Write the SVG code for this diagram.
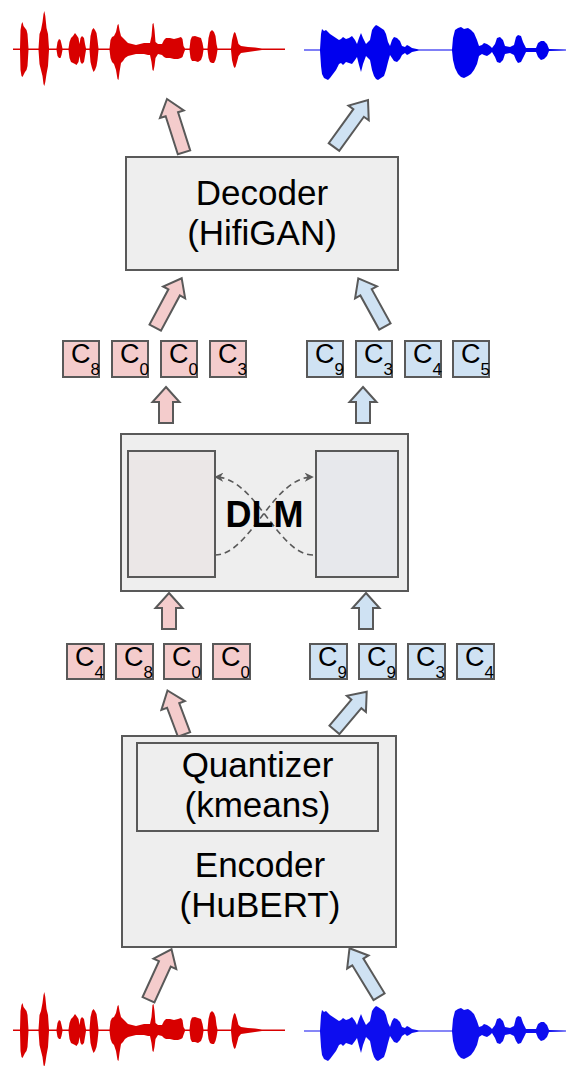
<svg xmlns="http://www.w3.org/2000/svg" xmlns:xlink="http://www.w3.org/1999/xlink" width="566" height="1066" viewBox="0 0 566 1066">
<style>
.box{fill:#eeeeee;stroke:#595959;stroke-width:2}
.pk{fill:#f4cccc;stroke:#595959;stroke-width:2;stroke-linejoin:miter}
.bl{fill:#cfe2f3;stroke:#595959;stroke-width:2;stroke-linejoin:miter}
.lbl{font-family:"Liberation Sans",Arial,sans-serif;font-size:35px;fill:#000;text-anchor:middle}
.tok{font-family:"Liberation Sans",Arial,sans-serif;font-size:27px;fill:#000}
.sub{font-size:17px}
.dash{fill:none;stroke:#595959;stroke-width:1.6;stroke-dasharray:6,4}
</style>
<defs>
<path id="wr" fill="#d80000" d="M13,48.5 L20,48.5 L20.5,30 L21.5,24 L22.5,22 L23.5,26 L25,28 L26.5,30 L27.5,34 L28.5,48.5 L38.5,48.5 L39.5,34 L41,30 L42.5,22 L43.5,14 L44.3,11 L45.3,16 L46.5,28 L48,34 L49,48.5 L56.5,48.5 L57.5,42 L59,39 L60.5,40 L61.5,44 L62.5,48.5 L68.5,48.5 L69.5,42 L71,38 L73,36 L75,33 L76.5,35 L78.5,38 L79.5,44 L80.5,38 L82,36 L84,38 L85,44 L86,48.5 L89.5,48.5 L90.5,36 L92,30 L93.5,28 L95,30 L96.5,33 L97.5,40 L98.5,48.5 L109.5,48.5 L110.5,40 L112,37 L114,36 L116,32 L117.5,25 L118.5,24 L119.5,30 L121,36 L123,38 L125,40 L128,43 L132,44 L136,45 L140,44 L144,43 L148,43 L150,43 L151.5,36 L152.5,24 L153.5,23 L154.5,30 L155.5,42 L158,44 L162,44 L164,40 L166,38 L170,38 L174,39 L178,38 L181,37 L182.5,39 L183.5,46 L185,48.5 L189.5,48.5 L190.5,40 L192,36.5 L195,36 L198,37 L201,38 L202.5,43 L203.5,48.5 L207.5,48.5 L208.5,38 L210,32 L212,30 L214,32 L215.5,36 L216.5,44 L217.5,48.5 L231,48.5 L232,40 L233.5,34 L234.5,32 L235.5,33 L237,38 L238.5,44 L241,46 L248,47 L255,47.5 L262,48.5 L285,48.5 L285,50 L262,50 L255,51 L248,52 L241,53 L238.5,56 L237,62 L235.5,67 L234.5,68 L233.5,66 L232,60 L231,50 L217.5,50 L216.5,56 L215.5,60 L214,63 L212,63 L210,62 L208.5,58 L207.5,50 L203.5,50 L202.5,56 L201,60 L198,62 L195,61 L192,61 L190.5,58 L189.5,50 L185,50 L183.5,54 L182.5,57 L181,58 L178,59 L174,59 L170,58 L166,58 L164,57 L162,55 L158,54 L155.5,58 L154.5,66 L153.5,71 L152.5,70 L151.5,62 L150,55 L148,55 L144,54 L140,54 L136,54 L132,55 L128,56 L125,58 L123,61 L121,63 L119.5,72 L118.5,80 L117.5,79 L116,70 L114,64 L112,62 L110.5,58 L109.5,50 L98.5,50 L97.5,60 L96.5,66 L95,70 L93.5,72 L92,68 L90.5,62 L89.5,50 L86,50 L85,56 L84,62 L82,64 L80.5,62 L79.5,56 L78.5,62 L76.5,65 L75,64 L73,63 L71,62 L69.5,58 L68.5,50 L62.5,50 L61.5,55 L60.5,58 L59,58 L57.5,56 L56.5,50 L49,50 L48,66 L46.5,74 L45.3,82 L44.3,86 L43.5,84 L42.5,76 L41,70 L39.5,64 L38.5,50 L28.5,50 L27.5,66 L26.5,70 L25,72 L23.5,75 L22.5,77 L21.5,76 L20.5,70 L20,50 L13,50 Z"/>
<path id="wb" fill="#0000ee" d="M304,49.4 L320,49.4 L321,34 L322,29 L324,31 L326,30 L328,32 L330,34 L333,36 L336,38 L339,40 L341,39 L343,37 L346,39 L349,38 L352,36 L355,40 L357,44 L359,38 L361,33 L363,38 L366,44 L370,40 L372,30 L374,27 L376,25 L378,26 L381,28 L384,30 L386,34 L388,42 L390,46 L392,40 L394,37 L397,38 L400,41 L402,46 L405,47 L407,45 L409,46 L412,48 L419,49.4 L452,49.4 L453,38 L455,30 L458,28 L461,27 L464,29 L468,28 L471,30 L474,33 L477,40 L479,46 L482,45 L484,43 L487,44 L490,46 L492,48 L495,44 L497,38 L500,37 L503,40 L505,46 L510,47 L514,45 L516,37 L518,35 L521,36 L523,42 L526,48 L536,48 L538,43 L541,41 L544,41 L547,44 L549,49 L566,49.4 L566,50.6 L549,51 L547,56 L544,59 L541,60 L538,57 L536,52 L526,52 L523,58 L521,62 L518,63 L516,60 L514,55 L510,53 L505,54 L503,60 L500,63 L497,62 L495,57 L492,52 L490,54 L487,56 L484,55 L482,54 L479,56 L477,64 L474,70 L471,74 L468,76 L464,78 L461,77 L458,74 L455,68 L453,60 L452,50.6 L419,50.6 L412,52 L409,54 L407,55 L405,53 L402,55 L400,59 L397,62 L394,61 L392,58 L390,55 L388,62 L386,70 L384,76 L381,78 L378,80 L376,79 L374,76 L372,70 L370,60 L366,56 L363,64 L361,72 L359,65 L357,57 L355,60 L352,64 L349,63 L346,62 L343,65 L341,63 L339,64 L336,70 L333,74 L330,78 L328,80 L326,79 L324,78 L322,74 L321,66 L320,50.6 L304,50.6 Z"/>
<path id="va" d="M0,0 L13.5,15 L7,15 L7,36 L-7,36 L-7,15 L-13.5,15 Z"/>
<marker id="ah" viewBox="0 0 10 10" refX="8" refY="5" markerWidth="9" markerHeight="9" markerUnits="userSpaceOnUse" orient="auto">
<path d="M0,0 L10,5 L0,10 L3,5 Z" fill="#595959"/>
</marker>
</defs>

<g id="waves-top">
<use xlink:href="#wr" href="#wr"/>
<use xlink:href="#wb" href="#wb"/>
</g>
<g id="waves-bottom" transform="translate(0,981)">
<use xlink:href="#wr" href="#wr"/>
<use xlink:href="#wb" href="#wb" opacity="0.95"/>
</g>

<g id="connectors">
<path class="pk" transform="translate(167,99) rotate(-17.7)" d="M0,0 L12.5,16 L6.5,16 L6.5,56 L-6.5,56 L-6.5,16 L-12.5,16 Z"/>
<path class="bl" transform="translate(368,100) rotate(35.9)" d="M0,0 L12.5,16 L6.5,16 L6.5,58 L-6.5,58 L-6.5,16 L-12.5,16 Z"/>
<path class="pk" transform="translate(181.7,278.3) rotate(28.2)" d="M0,0 L12.5,16 L6.5,16 L6.5,56 L-6.5,56 L-6.5,16 L-12.5,16 Z"/>
<path class="bl" transform="translate(358.3,278.3) rotate(-28.9)" d="M0,0 L12.5,16 L6.5,16 L6.5,55 L-6.5,55 L-6.5,16 L-12.5,16 Z"/>
<use class="pk" xlink:href="#va" href="#va" transform="translate(166,387)"/>
<use class="bl" xlink:href="#va" href="#va" transform="translate(363,387)"/>
<use class="pk" xlink:href="#va" href="#va" transform="translate(169,593)"/>
<use class="bl" xlink:href="#va" href="#va" transform="translate(366,593)"/>
<path class="pk" transform="translate(167.5,690.5) rotate(-20.6)" d="M0,0 L12.5,16 L6.5,16 L6.5,47 L-6.5,47 L-6.5,16 L-12.5,16 Z"/>
<path class="bl" transform="translate(366.7,691.7) rotate(40.2)" d="M0,0 L12.5,16 L6.5,16 L6.5,50 L-6.5,50 L-6.5,16 L-12.5,16 Z"/>
<path class="pk" transform="translate(171.5,949.3) rotate(24.5)" d="M0,0 L12.5,16 L6.5,16 L6.5,55.5 L-6.5,55.5 L-6.5,16 L-12.5,16 Z"/>
<path class="bl" transform="translate(349.5,948.3) rotate(-31.4)" d="M0,0 L12.5,16 L6.5,16 L6.5,56.7 L-6.5,56.7 L-6.5,16 L-12.5,16 Z"/>
</g>

<g id="decoder">
<rect class="box" x="126" y="157" width="272" height="113"/>
<text class="lbl" x="262" y="205">Decoder</text>
<text class="lbl" x="262" y="245">(HifiGAN)</text>
</g>

<g id="tokens-top">
<rect class="pk" x="63" y="341" width="36" height="36"/><text class="tok" x="71" y="363">C<tspan class="sub" dy="12">8</tspan></text>
<rect class="pk" x="112" y="341" width="36" height="36"/><text class="tok" x="120" y="363">C<tspan class="sub" dy="12">0</tspan></text>
<rect class="pk" x="161" y="341" width="36" height="36"/><text class="tok" x="169" y="363">C<tspan class="sub" dy="12">0</tspan></text>
<rect class="pk" x="210" y="341" width="36" height="36"/><text class="tok" x="218" y="363">C<tspan class="sub" dy="12">3</tspan></text>
<rect class="bl" x="307" y="341" width="36" height="36"/><text class="tok" x="315" y="363">C<tspan class="sub" dy="12">9</tspan></text>
<rect class="bl" x="356" y="341" width="36" height="36"/><text class="tok" x="364" y="363">C<tspan class="sub" dy="12">3</tspan></text>
<rect class="bl" x="405" y="341" width="36" height="36"/><text class="tok" x="413" y="363">C<tspan class="sub" dy="12">4</tspan></text>
<rect class="bl" x="453" y="341" width="36" height="36"/><text class="tok" x="461" y="363">C<tspan class="sub" dy="12">5</tspan></text>
</g>

<g id="dlm">
<rect class="box" x="121" y="434" width="287" height="157"/>
<rect x="128" y="451" width="87" height="126" fill="#ebe7e7" stroke="#595959" stroke-width="2"/>
<rect x="316" y="451" width="82" height="126" fill="#e7e8ec" stroke="#595959" stroke-width="2"/>
<path class="dash" d="M215,555 C250,555 272,478 312,477" marker-end="url(#ah)"/>
<path class="dash" d="M313,555 C278,555 256,478 216,477" marker-end="url(#ah)"/>
<text x="264.5" y="527" font-family="'Liberation Sans',Arial,sans-serif" font-size="36" font-weight="bold" text-anchor="middle" fill="#000">DLM</text>
</g>

<g id="tokens-bottom">
<rect class="pk" x="67" y="644" width="37" height="35"/><text class="tok" x="75" y="666">C<tspan class="sub" dy="12">4</tspan></text>
<rect class="pk" x="116" y="644" width="37" height="35"/><text class="tok" x="124" y="666">C<tspan class="sub" dy="12">8</tspan></text>
<rect class="pk" x="164" y="644" width="37" height="35"/><text class="tok" x="172" y="666">C<tspan class="sub" dy="12">0</tspan></text>
<rect class="pk" x="213" y="644" width="37" height="35"/><text class="tok" x="221" y="666">C<tspan class="sub" dy="12">0</tspan></text>
<rect class="bl" x="310" y="644" width="37" height="35"/><text class="tok" x="318" y="666">C<tspan class="sub" dy="12">9</tspan></text>
<rect class="bl" x="359" y="644" width="37" height="35"/><text class="tok" x="367" y="666">C<tspan class="sub" dy="12">9</tspan></text>
<rect class="bl" x="408" y="644" width="37" height="35"/><text class="tok" x="416" y="666">C<tspan class="sub" dy="12">3</tspan></text>
<rect class="bl" x="457" y="644" width="37" height="35"/><text class="tok" x="465" y="666">C<tspan class="sub" dy="12">4</tspan></text>
</g>

<g id="encoder">
<rect class="box" x="122" y="736" width="274" height="211"/>
<g id="quantizer">
<rect class="box" x="137" y="743" width="241" height="88"/>
<text class="lbl" x="257.5" y="777">Quantizer</text>
<text class="lbl" x="257.5" y="817">(kmeans)</text>
</g>
<text class="lbl" x="260" y="877">Encoder</text>
<text class="lbl" x="260" y="917">(HuBERT)</text>
</g>
</svg>
